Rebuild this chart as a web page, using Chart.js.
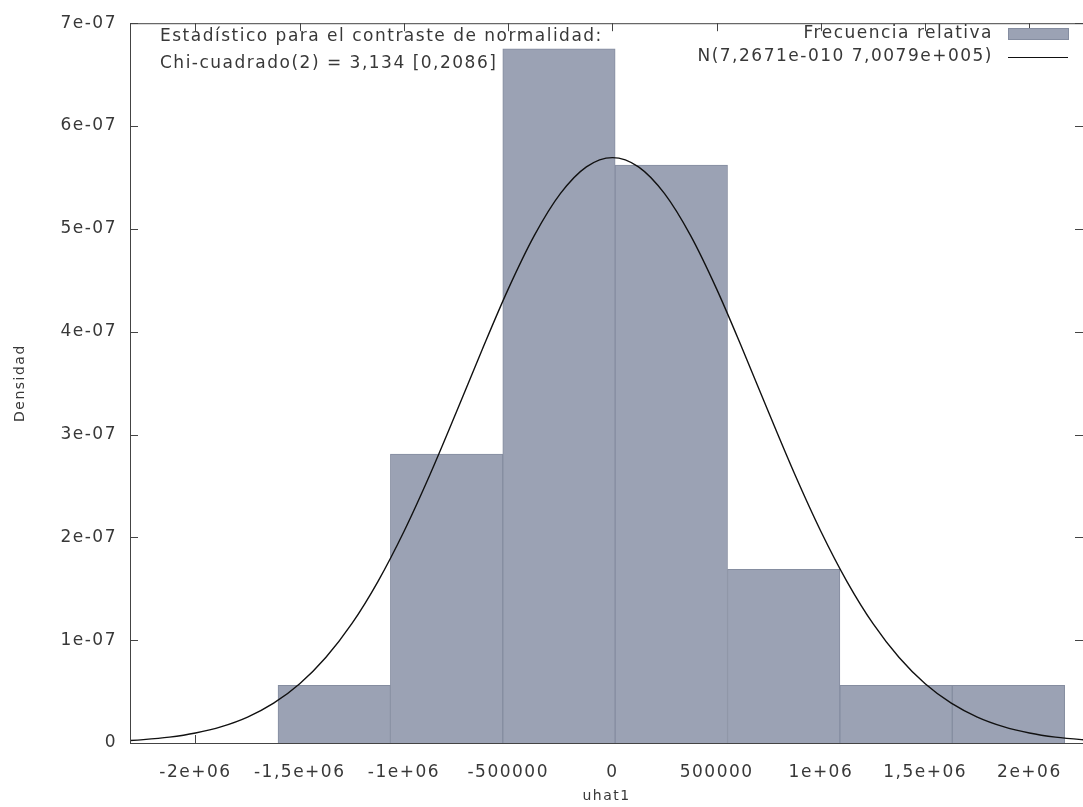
<!DOCTYPE html>
<html>
<head>
<meta charset="utf-8">
<script src="https://cdn.jsdelivr.net/npm/chart.js@4.4.1/dist/chart.umd.min.js"></script>
<style>
  body { margin: 0; background: #fff; }
  #wrap { width: 1083px; height: 807px; }
</style>
</head>
<body>
<div id="wrap"><canvas id="hist"></canvas></div>
<script>
// Histograma de residuos (uhat1) con curva normal
const binCenters = [-1.3345e6, -0.7955e6, -0.2565e6, 0.2825e6, 0.8215e6, 1.3605e6, 1.8995e6];
const relFreq = [5.62e-8, 2.81e-7, 6.75e-7, 5.62e-7, 1.69e-7, 5.62e-8, 5.62e-8];

// curva N(7,2671e-010 7,0079e+005)
const curveX = [-2.375e6, -2.25e6, -2.125e6, -2e6, -1.875e6, -1.75e6, -1.625e6, -1.5e6, -1.375e6, -1.25e6,
  -1.125e6, -1e6, -0.875e6, -0.75e6, -0.625e6, -0.5e6, -0.375e6, -0.25e6, -0.125e6, 0,
  0.125e6, 0.25e6, 0.375e6, 0.5e6, 0.625e6, 0.75e6, 0.875e6, 1e6, 1.125e6, 1.25e6,
  1.375e6, 1.5e6, 1.625e6, 1.75e6, 1.875e6, 2e6, 2.125e6, 2.25e6, 2.375e6];
const curveY = [0.018e-7, 0.033e-7, 0.057e-7, 0.097e-7, 0.159e-7, 0.252e-7, 0.387e-7, 0.576e-7, 0.831e-7, 1.160e-7,
  1.570e-7, 2.057e-7, 2.611e-7, 3.211e-7, 3.825e-7, 4.414e-7, 4.934e-7, 5.342e-7, 5.603e-7, 5.693e-7,
  5.603e-7, 5.342e-7, 4.934e-7, 4.414e-7, 3.825e-7, 3.211e-7, 2.611e-7, 2.057e-7, 1.570e-7, 1.160e-7,
  0.831e-7, 0.576e-7, 0.387e-7, 0.252e-7, 0.159e-7, 0.097e-7, 0.057e-7, 0.033e-7, 0.018e-7];

const xTicks = [-2e6, -1.5e6, -1e6, -5e5, 0, 5e5, 1e6, 1.5e6, 2e6];
const xTickLabels = ['-2e+06', '-1,5e+06', '-1e+06', '-500000', '0', '500000', '1e+06', '1,5e+06', '2e+06'];
const yTicks = [0, 1e-7, 2e-7, 3e-7, 4e-7, 5e-7, 6e-7, 7e-7];
const yTickLabels = ['0', '1e-07', '2e-07', '3e-07', '4e-07', '5e-07', '6e-07', '7e-07'];

const testLines = ['Estadístico para el contraste de normalidad:', 'Chi-cuadrado(2) = 3,134 [0,2086]'];

const barFill = '#9ba2b4';
const barEdge = '#858da0';
const textCol = '#383838';
const spacing = '1.5px';
const mainFont = '17px "DejaVu Sans"';

// marco, ticks hacia dentro, texto y leyenda al estilo gnuplot
const gnuplotLook = {
  id: 'gnuplotLook',
  beforeLayout(chart) { chart.ctx.letterSpacing = spacing; },
  beforeDraw(chart) { chart.ctx.letterSpacing = spacing; },
  beforeDatasetsDraw(chart) {
    const {ctx, chartArea: a, scales} = chart;
    ctx.save();
    ctx.strokeStyle = '#444';
    ctx.lineWidth = 1;
    ctx.beginPath();
    xTicks.forEach(v => {
      const px = Math.round(scales.x.getPixelForValue(v)) + 0.5;
      ctx.moveTo(px, a.bottom); ctx.lineTo(px, a.bottom - 8);
      ctx.moveTo(px, a.top); ctx.lineTo(px, a.top + 8);
    });
    yTicks.forEach(v => {
      const py = Math.round(scales.y.getPixelForValue(v)) + 0.5;
      ctx.moveTo(a.left, py); ctx.lineTo(a.left + 8, py);
      ctx.moveTo(a.right, py); ctx.lineTo(a.right - 8, py);
    });
    ctx.stroke();
    ctx.fillStyle = textCol;
    ctx.font = mainFont;
    ctx.textAlign = 'left';
    ctx.textBaseline = 'middle';
    ctx.fillText(testLines[0], 160, 37);
    ctx.fillText(testLines[1], 160, 64);
    ctx.restore();
  },
  afterDatasetsDraw(chart) {
    const {ctx, chartArea: a} = chart;
    ctx.save();
    ctx.strokeStyle = '#444';
    ctx.lineWidth = 1;
    ctx.strokeRect(a.left + 0.5, a.top + 0.5, a.right - a.left, a.bottom - a.top);
    // leyenda
    const ds = chart.data.datasets;
    ctx.fillStyle = textCol;
    ctx.font = mainFont;
    ctx.textAlign = 'right';
    ctx.textBaseline = 'middle';
    ctx.fillText(ds[0].label, 993, 34);
    ctx.fillText(ds[1].label, 993, 57);
    ctx.fillStyle = barFill;
    ctx.fillRect(1008, 28, 60, 11);
    ctx.strokeStyle = barEdge;
    ctx.strokeRect(1008.5, 28.5, 60, 11);
    ctx.strokeStyle = '#111';
    ctx.beginPath();
    ctx.moveTo(1008, 57.5); ctx.lineTo(1068, 57.5);
    ctx.stroke();
    ctx.restore();
  }
};

const ctx = document.getElementById('hist').getContext('2d');
new Chart(ctx, {
  type: 'bar',
  data: {
    datasets: [{
      type: 'bar',
      label: 'Frecuencia relativa',
      data: binCenters.map((x, i) => ({x: x, y: relFreq[i]})),
      backgroundColor: barFill,
      borderColor: barEdge,
      borderWidth: 1,
      barThickness: 'flex',
      barPercentage: 1,
      categoryPercentage: 1,
      order: 1
    }, {
      type: 'line',
      label: 'N(7,2671e-010 7,0079e+005)',
      data: curveX.map((x, i) => ({x: x, y: curveY[i]})),
      borderColor: '#111',
      borderWidth: 1.4,
      pointRadius: 0,
      cubicInterpolationMode: 'monotone',
      fill: false,
      order: 0
    }]
  },
  options: {
    responsive: true,
    maintainAspectRatio: false,
    animation: false,
    layout: { padding: { top: 12, right: 0, left: 0, bottom: 0 } },
    plugins: { legend: { display: false }, tooltip: { enabled: false } },
    scales: {
      x: {
        type: 'linear',
        min: -2.314e6,
        max: 2.257e6,
        offset: false,
        border: { display: false },
        grid: { display: false, drawTicks: false },
        afterBuildTicks: s => { s.ticks = xTicks.map(v => ({value: v})); },
        afterFit: s => { s.height = 64; },
        ticks: {
          padding: 19,
          maxRotation: 0,
          autoSkip: false,
          color: textCol,
          font: { family: 'DejaVu Sans', size: 17 },
          callback: (v, i) => xTickLabels[i]
        },
        title: {
          display: true,
          text: 'uhat1',
          color: textCol,
          font: { family: 'DejaVu Sans', size: 14 },
          padding: { top: 0, bottom: 2 }
        }
      },
      y: {
        min: 0,
        max: 7e-7,
        border: { display: false },
        grid: { display: false, drawTicks: false },
        afterBuildTicks: s => { s.ticks = yTicks.map(v => ({value: v})); },
        afterFit: s => { s.width = 130; },
        ticks: {
          padding: 13,
          autoSkip: false,
          color: textCol,
          font: { family: 'DejaVu Sans', size: 17 },
          callback: (v, i) => yTickLabels[i]
        },
        title: {
          display: true,
          text: 'Densidad',
          color: textCol,
          font: { family: 'DejaVu Sans', size: 14 },
          padding: { top: 12, bottom: 0 }
        }
      }
    }
  },
  plugins: [gnuplotLook]
});
</script>
</body>
</html>
